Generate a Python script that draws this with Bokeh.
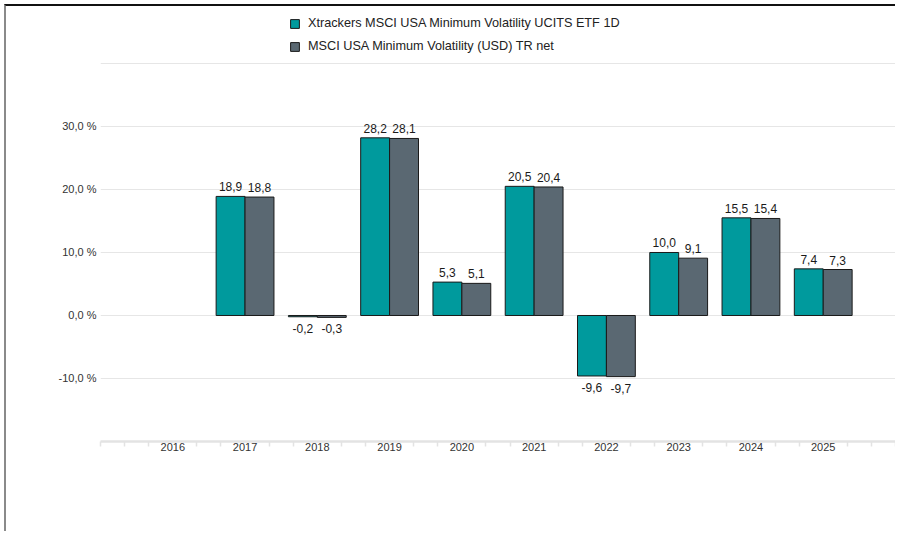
from bokeh.plotting import figure
from bokeh.models import ColumnDataSource, FixedTicker, Legend, LegendItem, Range1d
from bokeh.core.properties import value
from bokeh.embed import file_html
from bokeh.resources import INLINE

years = [2016, 2017, 2018, 2019, 2020, 2021, 2022, 2023, 2024, 2025]
etf_values = [None, 18.9, -0.2, 28.2, 5.3, 20.5, -9.6, 10.0, 15.5, 7.4]
index_values = [None, 18.8, -0.3, 28.1, 5.1, 20.4, -9.7, 9.1, 15.4, 7.3]
series_names = ["Xtrackers MSCI USA Minimum Volatility UCITS ETF 1D",
                "MSCI USA Minimum Volatility (USD) TR net"]
y_ticks = [-20, -10, 0, 10, 20, 30, 40]

TEAL = "#009a9d"
GREY = "#5a6872"
FONT = "Liberation Sans"


def make_source(vals, offset):
    xs, tops, labels, offs, bases = [], [], [], [], []
    for y, v in zip(years, vals):
        if v is None:
            continue
        xs.append(y + offset)
        tops.append(v)
        labels.append(f"{v:.1f}".replace(".", ","))
        offs.append(-5 if v >= 0 else 7)
        bases.append("bottom" if v >= 0 else "top")
    return ColumnDataSource(dict(x=xs, top=tops, label=labels, yoff=offs, base=bases))


p = figure(width=891, height=527,
           x_range=Range1d(2015, 2026), y_range=Range1d(-20, 48.41),
           output_backend="svg", toolbar_location=None,
           min_border_left=94, min_border_right=2, min_border_top=4, min_border_bottom=92,
           margin=(4, 0, 0, 4),
           styles={"border-top": "2px solid #111111", "border-left": "2px solid #8a8a8a"})
p.outline_line_color = None
p.background_fill_color = "white"
p.border_fill_color = "white"

src_etf = make_source(etf_values, -0.2)
src_idx = make_source(index_values, 0.2)

r1 = p.vbar(x="x", top="top", bottom=0, width=0.4, source=src_etf,
            fill_color=TEAL, line_color="#1a1a1a", line_width=1)
r2 = p.vbar(x="x", top="top", bottom=0, width=0.4, source=src_idx,
            fill_color=GREY, line_color="#1a1a1a", line_width=1)

for src in (src_etf, src_idx):
    p.text(x="x", y="top", text="label", source=src, y_offset="yoff",
           text_baseline="base", text_align="center",
           text_font=value(FONT), text_font_size="12px", text_color="#1a1a1a")

# y axis
p.yaxis.ticker = FixedTicker(ticks=y_ticks)
p.yaxis.major_label_overrides = {t: ("" if t in (-20, 40) else f"{t:.1f}".replace(".", ",") + " %")
                                 for t in y_ticks}
p.yaxis.axis_line_color = None
p.yaxis.major_tick_line_color = None
p.yaxis.major_tick_out = 0
p.yaxis.major_tick_in = 0
p.yaxis.minor_tick_line_color = None
p.yaxis.major_label_standoff = 4
p.yaxis.major_label_text_font = FONT
p.yaxis.major_label_text_font_size = "11px"
p.yaxis.major_label_text_color = "#333333"
p.ygrid.grid_line_color = "#e6e6e6"
p.ygrid.grid_line_width = 1
p.xgrid.grid_line_color = None

# x axis
minor = [y0 + k / 3 for y0 in range(2015, 2027) for k in range(3)
         if not (k == 0 and y0 in years) and y0 + k / 3 <= 2026]
p.xaxis.ticker = FixedTicker(ticks=years, minor_ticks=minor)
p.xaxis.major_label_overrides = {y: str(y) for y in years}
p.xaxis.axis_line_color = "#e3e3e3"
p.xaxis.axis_line_width = 2.5
p.xaxis.major_tick_line_color = None
p.xaxis.major_tick_out = 0
p.xaxis.major_tick_in = 0
p.xaxis.minor_tick_line_color = "#e3e3e3"
p.xaxis.minor_tick_line_width = 1.5
p.xaxis.minor_tick_out = 5
p.xaxis.minor_tick_in = 0
p.xaxis.major_label_standoff = -4
p.xaxis.major_label_text_font = FONT
p.xaxis.major_label_text_font_size = "11px"
p.xaxis.major_label_text_color = "#333333"

legend = Legend(items=[LegendItem(label=series_names[0], renderers=[r1]),
                       LegendItem(label=series_names[1], renderers=[r2])],
                location=(189, 388), orientation="vertical",
                glyph_width=11, glyph_height=11, label_standoff=8, spacing=9,
                padding=0, margin=0, border_line_color=None, background_fill_alpha=0,
                label_text_font=FONT, label_text_font_size="12.7px",
                label_text_color="#222222")
p.add_layout(legend)

open("out.html", "w").write(file_html(p, INLINE))
